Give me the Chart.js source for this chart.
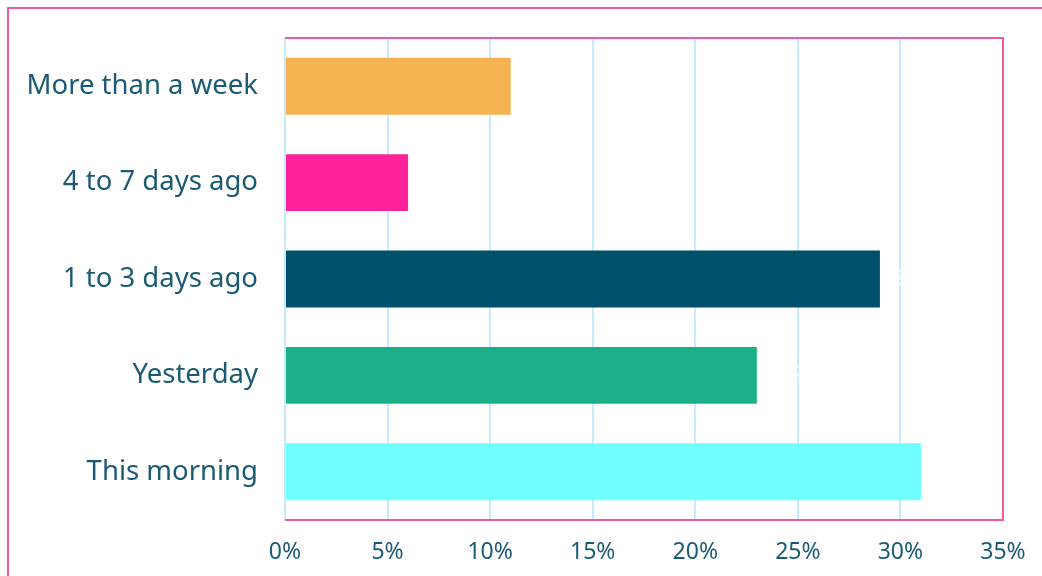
<!DOCTYPE html>
<html>
<head>
<meta charset="utf-8">
<script src="https://cdn.jsdelivr.net/npm/chart.js@4.4.1/dist/chart.umd.min.js"></script>
<style>
  html, body { margin: 0; padding: 0; background: #fff; }
  #wrap { position: relative; width: 1042px; height: 576px; overflow: hidden; }
  #frame { position: absolute; left: 7px; top: 7px; width: 1100px; height: 700px; border: 2px solid #ee5aa2; box-sizing: border-box; }
  canvas { position: absolute; left: 0; top: 0; }
</style>
</head>
<body>
<div id="wrap">
  <div id="frame"></div>
  <canvas id="chart" width="1042" height="576"></canvas>
</div>
<script>
const categories = ['More than a week', '4 to 7 days ago', '1 to 3 days ago', 'Yesterday', 'This morning'];
const shares = [11, 6, 29, 23, 31];
const barColors = ['#f4b350', '#ff2299', '#004f6b', '#1daf87', '#70ffff'];
const tickValues = [0, 5, 10, 15, 20, 25, 30, 35];

const textColor = '#1b5a74';
const fontFamily = 'Noto Sans, sans-serif';

// pink outline on top, right and bottom of the plot area
const plotFrame = {
  id: 'plotFrame',
  afterDraw(chart) {
    const { ctx, chartArea: a } = chart;
    ctx.save();
    ctx.strokeStyle = '#ee5aa2';
    ctx.lineWidth = 2;
    ctx.beginPath();
    ctx.moveTo(a.left, a.top);
    ctx.lineTo(a.right, a.top);
    ctx.lineTo(a.right, a.bottom);
    ctx.lineTo(a.left, a.bottom);
    ctx.stroke();
    ctx.restore();
  }
};

// value labels in white just past each bar end
const valueLabels = {
  id: 'valueLabels',
  afterDraw(chart) {
    const { ctx } = chart;
    const meta = chart.getDatasetMeta(0);
    ctx.save();
    ctx.fillStyle = '#ffffff';
    ctx.font = '22px ' + fontFamily;
    ctx.textAlign = 'left';
    ctx.textBaseline = 'middle';
    meta.data.forEach((bar, i) => {
      ctx.fillText(shares[i] + '%', bar.x + 12, bar.y);
    });
    ctx.restore();
  }
};

const ctx = document.getElementById('chart').getContext('2d');
new Chart(ctx, {
  type: 'bar',
  data: {
    labels: categories,
    datasets: [{
      data: shares,
      backgroundColor: barColors,
      borderWidth: 0,
      categoryPercentage: 1,
      barPercentage: 0.59
    }]
  },
  options: {
    indexAxis: 'y',
    responsive: false,
    animation: false,
    layout: { padding: { top: 38, right: 39, left: 0, bottom: 0 } },
    plugins: { legend: { display: false }, tooltip: { enabled: false } },
    scales: {
      x: {
        min: 0,
        max: 35,
        afterBuildTicks(scale) {
          scale.ticks = tickValues.map(v => ({ value: v }));
        },
        afterFit(scale) {
          scale.height = 56;
          scale.paddingLeft = 0;
          scale.paddingRight = 0;
        },
        grid: { color: '#c5ebfc', lineWidth: 2, drawTicks: false },
        border: { display: false },
        ticks: {
          padding: 19,
          color: textColor,
          font: { family: fontFamily, size: 23 },
          callback: v => v + '%'
        }
      },
      y: {
        afterFit(scale) {
          scale.width = 285;
          scale.paddingTop = 0;
          scale.paddingBottom = 0;
        },
        grid: { display: false },
        border: { display: false },
        ticks: {
          padding: 19,
          color: textColor,
          font: { family: fontFamily, size: 27.5 }
        }
      }
    }
  },
  plugins: [plotFrame, valueLabels]
});
</script>
</body>
</html>
